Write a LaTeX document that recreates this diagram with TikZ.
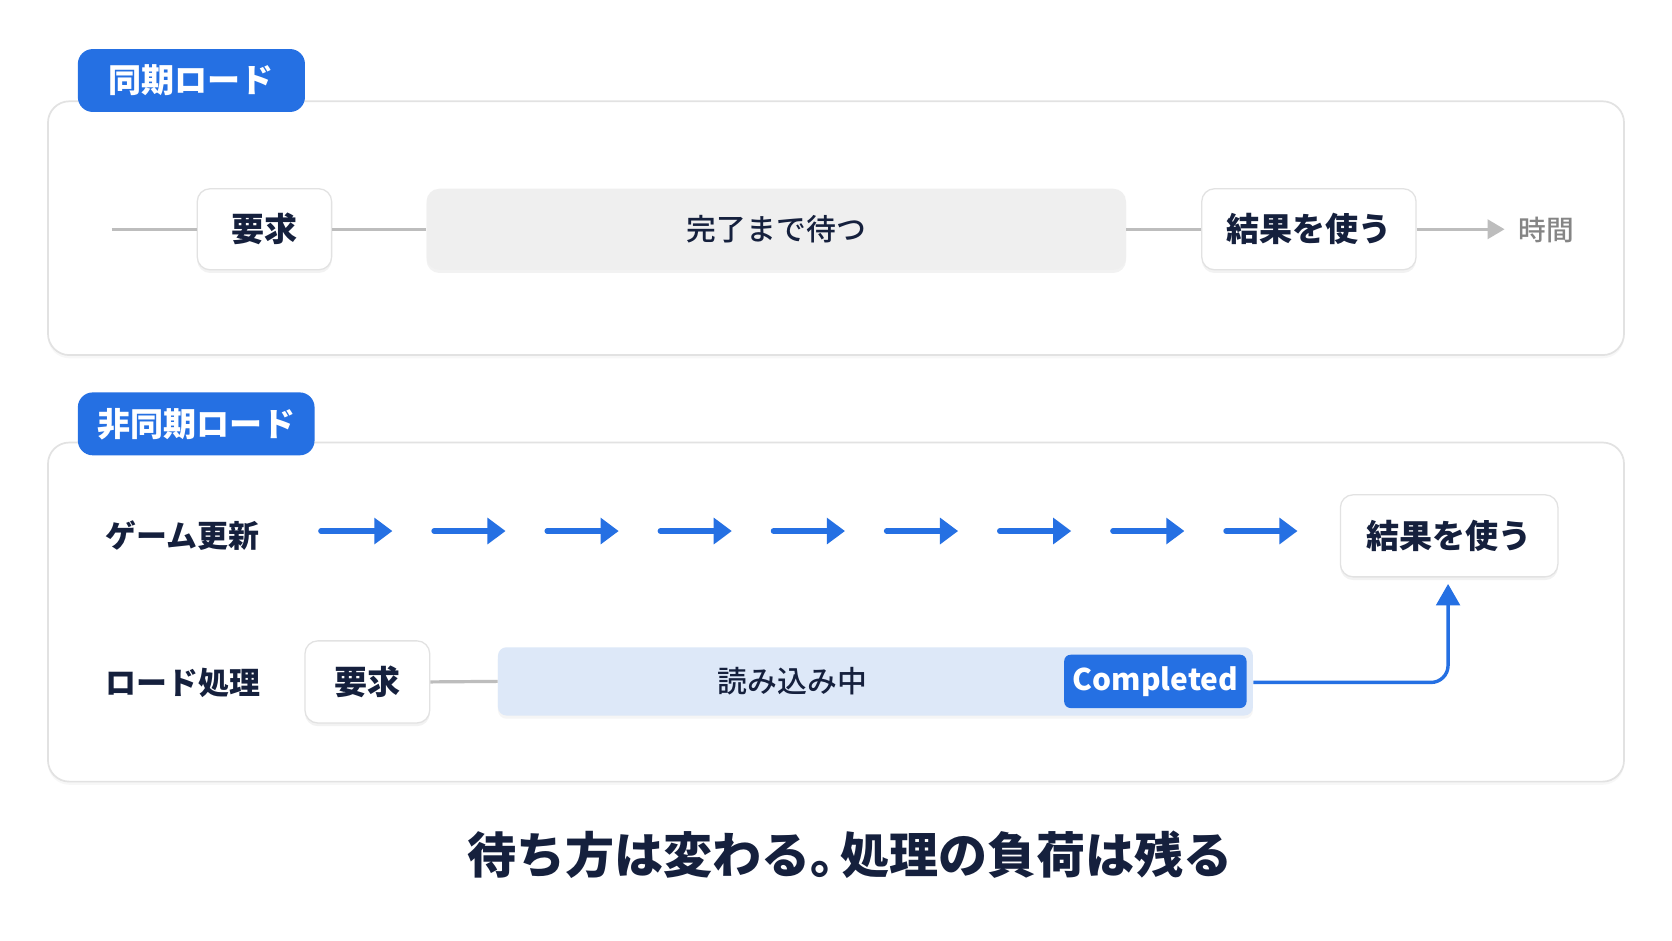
\documentclass[tikz,border=0pt]{standalone}
\usepackage{fontspec}
\setmainfont{Noto Sans CJK JP}
\IfFontExistsTF{Noto Sans CJK JP Medium}
  {\newfontfamily\medfont{Noto Sans CJK JP Medium}}
  {\newfontfamily\medfont{Noto Sans CJK JP}}
\usetikzlibrary{arrows.meta,shadows}
\definecolor{navy}{HTML}{15203D}
\definecolor{brand}{HTML}{2570E3}
\definecolor{lightblue}{HTML}{DDE8F8}
\definecolor{waitgray}{HTML}{EFEFEF}
\definecolor{linegray}{HTML}{BDBDBD}
\definecolor{panelborder}{HTML}{E2E2E2}
\definecolor{timegray}{HTML}{858585}
\tikzset{
  panel/.style={draw=panelborder, line width=0.8pt, fill=white, rounded corners=10pt,
    drop shadow={opacity=0.06, shadow xshift=0pt, shadow yshift=-1.5pt}},
  badge/.style={fill=brand, text=white, rounded corners=7pt, minimum height=29.5pt,
    font=\fontsize{15.5}{16}\selectfont\bfseries, inner sep=0pt},
  card/.style={draw=panelborder, line width=0.6pt, fill=white, rounded corners=6pt,
    minimum height=38pt, text=navy, font=\fontsize{15.5}{16}\selectfont\bfseries, inner sep=0pt,
    drop shadow={opacity=0.10, shadow xshift=0pt, shadow yshift=-1.5pt}},
  waitbox/.style={fill=waitgray, rounded corners=6pt, minimum height=38pt, minimum width=328pt,
    text=navy, font=\fontsize{14}{15}\selectfont\medfont, inner sep=0pt,
    drop shadow={opacity=0.10, shadow xshift=0pt, shadow yshift=-1.5pt}},
  loadbar/.style={fill=lightblue, rounded corners=4pt, minimum height=32pt, minimum width=354pt,
    inner sep=0pt, drop shadow={opacity=0.08, shadow xshift=0pt, shadow yshift=-1.5pt}},
  donebox/.style={fill=brand, text=white, rounded corners=3pt, minimum height=25pt, minimum width=85.5pt,
    font=\fontsize{14}{15}\selectfont\bfseries, inner sep=0pt},
  rowlabel/.style={text=navy, font=\fontsize{14.5}{15}\selectfont\bfseries, inner sep=0pt, anchor=west},
  grayline/.style={draw=linegray, line width=1.5pt},
  tick/.style={draw=brand, line width=2.6pt, line cap=round,
    -{Triangle[length=8.5pt, width=12pt]}},
  linkline/.style={draw=brand, line width=1.6pt, rounded corners=8pt,
    -{Triangle[length=10pt, width=11pt]}},
}
\begin{document}
\begin{tikzpicture}[x=0.5pt, y=-0.5pt]
\useasboundingbox[fill=white] (0,0) rectangle (1568,882);

% panels
\draw[panel] (45,95) rectangle (1523,333);
\draw[panel] (45,415) rectangle (1523,733);

% badges
\node[badge, minimum width=106.5pt] (b1) at (179.5,75.5) {同期ロード};
\node[badge, minimum width=111pt] (b2) at (184,397.5) {非同期ロード};

% row 1: synchronous
\coordinate (s0) at (105,215);
\node[card, minimum width=63pt] (req1) at (248,215) {要求};
\node[waitbox] (wait) at (728,215) {完了まで待つ};
\node[card, minimum width=100.5pt] (use1) at (1227.5,215) {結果を使う};
\coordinate (tend) at (1411,215);
\node[text=timegray, font=\fontsize{13}{14}\selectfont\medfont, inner sep=0pt, anchor=west] (time) at (1424,216) {時間};
\draw[grayline] (s0) -- (req1.west);
\draw[grayline] (req1.east) -- (wait.west);
\draw[grayline] (wait.east) -- (use1.west);
\draw[grayline, -{Triangle[length=8pt, width=9pt]}] (use1.east) -- (tend);

% row 2: game update
\node[rowlabel] (game) at (99,502) {ゲーム更新};
\foreach \i in {0,...,8} {
  \coordinate (a\i) at ({301+106.1*\i},498);
  \coordinate (e\i) at ({368+106.1*\i},498);
  \draw[tick] (a\i) -- (e\i);
}
\node[card, minimum width=102pt, minimum height=38.5pt] (use2) at (1359,502.5) {結果を使う};

% row 3: load processing
\node[rowlabel] (loadlbl) at (99,640) {ロード処理};
\node[card, minimum width=58.5pt, minimum height=38.5pt] (req2) at (344.5,639.5) {要求};
\node[loadbar] (load) at (821,639) {};
\node[text=navy, font=\fontsize{14}{15}\selectfont\medfont, inner sep=0pt] (loadtxt) at (743,639) {読み込み中};
\node[donebox] (done) at (1083.5,639) {Completed};
\draw[grayline] (req2.east) -- (load.west);
\coordinate (turn) at (1358,640);
\draw[linkline] (load.east |- turn) -- (turn) -- ([yshift=-3pt]use2.south -| turn);

% caption
\node[text=navy, font=\fontsize{23}{24}\selectfont\bfseries, inner sep=0pt] (caption) at (797,802) {待ち方は変わる。\kern-0.4em 処理の負荷は残る};
\end{tikzpicture}
\end{document}
